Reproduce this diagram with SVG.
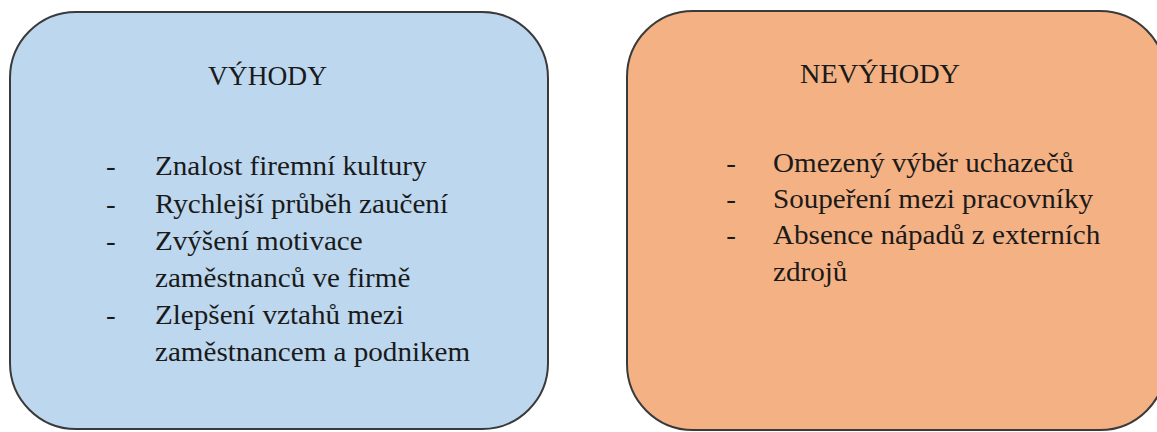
<svg xmlns="http://www.w3.org/2000/svg" width="1157" height="432" viewBox="0 0 1157 432">
<style>
.box{stroke:#3a3a3a;stroke-width:2}
.t{font-family:'Liberation Serif','DejaVu Serif',serif;font-size:28px;fill:#1a1a1a}
</style>
<rect width="1157" height="432" fill="#ffffff"/>
<g id="vyhody">
<rect class="box" x="10" y="12" width="538" height="417" rx="66" ry="66" fill="#BDD7EE"/>
<text class="t" x="208" y="85" textLength="119" lengthAdjust="spacingAndGlyphs">VÝHODY</text>
<g transform="translate(155 0) scale(1.04 1) translate(-155 0)">
<text class="t" x="108" y="175">-</text><text class="t" x="155" y="175">Znalost firemní kultury</text>
<text class="t" x="108" y="213">-</text><text class="t" x="155" y="213">Rychlejší průběh zaučení</text>
<text class="t" x="108" y="250">-</text><text class="t" x="155" y="250">Zvýšení motivace</text>
<text class="t" x="155" y="287">zaměstnanců ve firmě</text>
<text class="t" x="108" y="324">-</text><text class="t" x="155" y="324">Zlepšení vztahů mezi</text>
<text class="t" x="155" y="361">zaměstnancem a podnikem</text>
</g>
</g>
<g id="nevyhody">
<rect class="box" x="627" y="11" width="539" height="419" rx="66" ry="66" fill="#F4B183"/>
<text class="t" x="800" y="83" textLength="160" lengthAdjust="spacingAndGlyphs">NEVÝHODY</text>
<g transform="translate(773 0) scale(1.04 1) translate(-773 0)">
<text class="t" x="728" y="172">-</text><text class="t" x="773" y="172">Omezený výběr uchazečů</text>
<text class="t" x="728" y="208">-</text><text class="t" x="773" y="208">Soupeření mezi pracovníky</text>
<text class="t" x="728" y="244">-</text><text class="t" x="773" y="244">Absence nápadů z externích</text>
<text class="t" x="773" y="281">zdrojů</text>
</g>
</g>
<g id="connectors"></g>
</svg>
